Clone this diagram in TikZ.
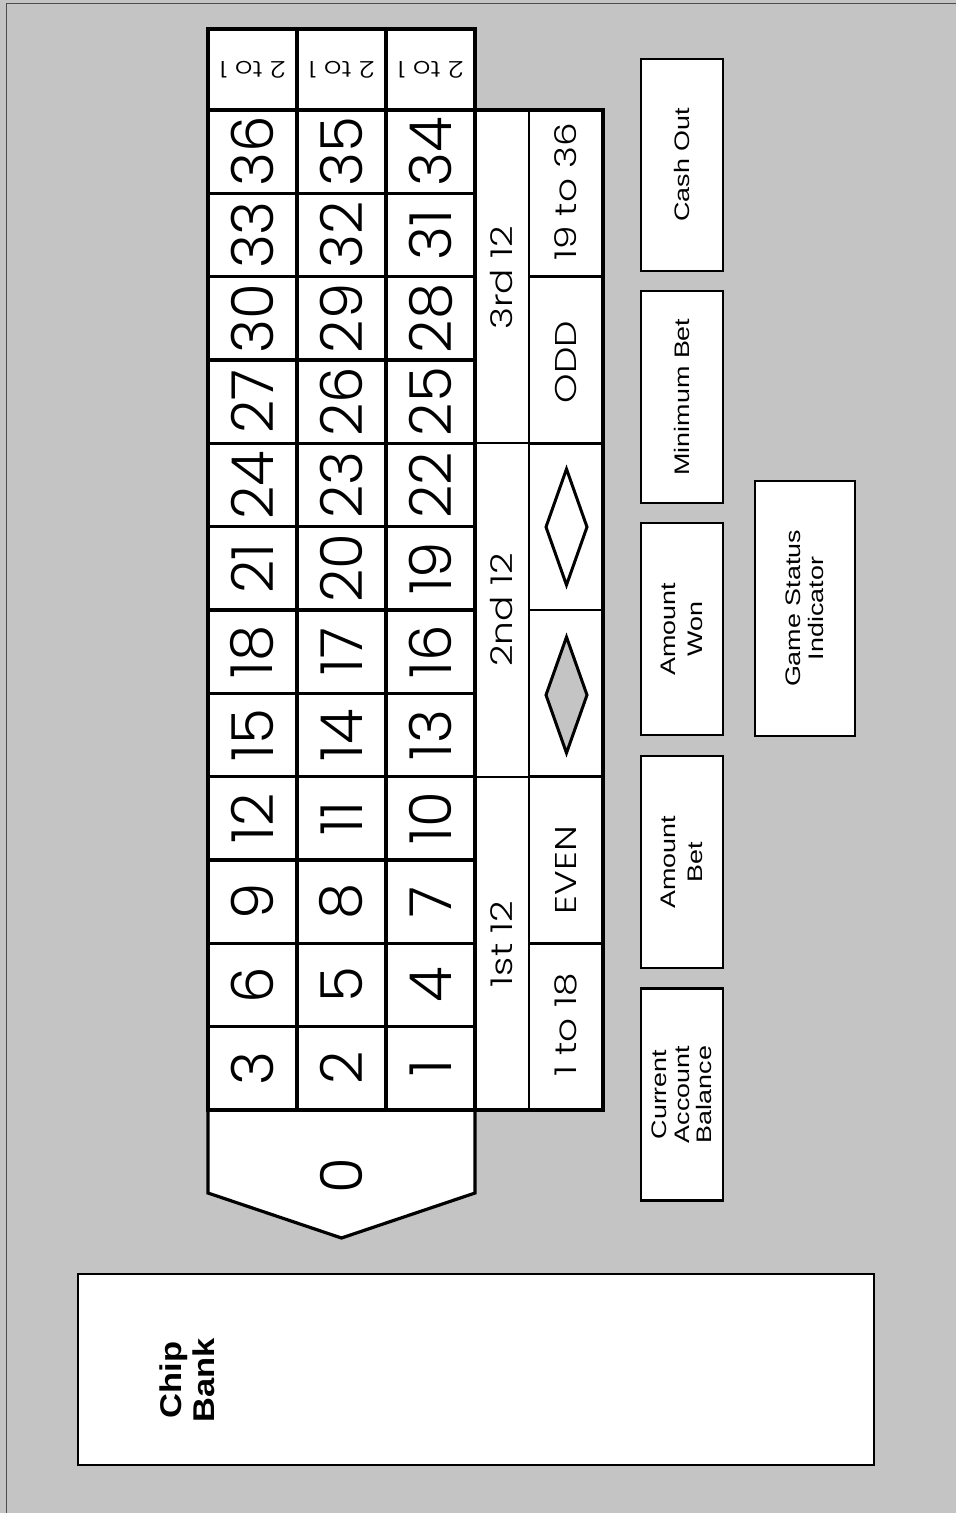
\documentclass[tikz,border=0pt]{standalone}
\usepackage{fontspec}
\setmainfont{Liberation Sans}
\newfontfamily\arialish{Liberation Sans}
\IfFontExistsTF{Poppins Light}{\newfontfamily\geo{Poppins Light}}{\newfontfamily\geo{Poppins}}
\definecolor{bggray}{RGB}{196,196,196}
\begin{document}
\begin{tikzpicture}[x=1pt,y=-1pt,
  cellbox/.style={draw, line width=3.2pt, fill=white, inner sep=0pt},
  numfont/.style={font=\geo\fontsize{58}{58}\selectfont},
  midfont/.style={font=\geo\fontsize{30}{30}\selectfont, rotate=90, xscale=1.25, inner sep=0pt},
  smallgeo/.style={font=\geo\fontsize{23}{23}\selectfont},
  infobox/.style={draw, line width=2.4pt, fill=white, inner sep=0pt},
  infotext/.style={rotate=90, xscale=1.28, align=center, inner sep=0pt},
  diamline/.style={line width=3pt, line join=miter}]
\useasboundingbox (0,0) rectangle (956,1513);
\fill[bggray] (0,0) rectangle (956,1513);
\draw[line width=1pt, black!70] (6,1513) -- (6,3) -- (956,3);

% chip bank
\node[infobox, line width=1.6pt, minimum width=796pt, minimum height=191pt] (chipbank) at (476,1369.5) {};
\node[rotate=90, xscale=1.15, align=center, inner sep=0pt,
  font=\arialish\bfseries\fontsize{30}{33}\selectfont] (chiptext) at (187,1380) {Chip\\Bank};

% zero
\draw[line width=3.2pt, fill=white, line join=miter] (208,1110) -- (475,1110) -- (475,1193) -- (341.5,1238) -- (208,1193) -- cycle;
\node[numfont, rotate=90, inner sep=0pt] (zero) at (341,1176) {0};

% 2 to 1 cells
\foreach \c in {0,1,2}{
  \pgfmathsetmacro\cx{252.5+89*\c}
  \node[cellbox, minimum width=89pt, minimum height=81pt] (col\c) at (\cx,69.5) {};
  \node[smallgeo, rotate=180, xscale=1.2, inner sep=0pt] (colt\c) at (\cx,69.5) {2 to 1};
}

% numbers
\foreach \k in {0,...,11}{
  \foreach \c in {0,1,2}{
    \pgfmathtruncatemacro\n{3*\k+3-\c}
    \pgfmathsetmacro\cx{252.5+89*\c}
    \pgfmathsetmacro\cy{1110-(\k+0.5)*83.333}
    \node[cellbox, numfont, rotate=90, minimum width=83.333pt, minimum height=89pt] (n\n) at (\cx,\cy) {\n};
  }
}

% dozens
\node[cellbox, line width=2.2pt, rotate=90, minimum width=333.33pt, minimum height=54pt] (doz1) at (502,943.33) {};
\node[cellbox, line width=2.2pt, rotate=90, minimum width=333.33pt, minimum height=54pt] (doz2) at (502,610) {};
\node[cellbox, line width=2.2pt, rotate=90, minimum width=333.33pt, minimum height=54pt] (doz3) at (502,276.67) {};
\node[midfont] (doz1t) at (502,944) {1st 12};
\node[midfont] (doz2t) at (502,610) {2nd 12};
\node[midfont] (doz3t) at (502,278) {3rd 12};

% outside bets
\foreach \i/\yc in {1/1026.67,2/860,3/693.33,4/526.67,5/360,6/193.33}{
  \node[cellbox, line width=2.8pt, rotate=90, minimum width=166.67pt, minimum height=74pt] (ob\i) at (566,\yc) {};
}
\node[midfont] (lowt) at (566,1025) {1 to 18};
\node[midfont] (event) at (566,870) {EVEN};
\node[midfont] (oddt) at (566,362) {ODD};
\node[midfont] (hight) at (566,192) {19 to 36};
\draw[diamline, fill=bggray] (566.5,637) -- (587,695) -- (566.5,753) -- (546,695) -- cycle;
\draw[diamline, fill=white] (566.5,469) -- (587,527) -- (566.5,585) -- (546,527) -- cycle;

% outer frame of table area
\draw[line width=3.2pt] (208,29) rectangle (475,1110);
\draw[line width=3.2pt] (475,110) -- (603,110) -- (603,1110) -- (475,1110);

% info boxes
\node[infobox, minimum width=82pt, minimum height=212pt] (cashout) at (682,165) {};
\node[infotext, font=\arialish\fontsize{21}{23}\selectfont] at (cashout.center) {Cash Out};
\node[infobox, minimum width=82pt, minimum height=212pt] (minbet) at (682,397) {};
\node[infotext, font=\arialish\fontsize{21}{23}\selectfont] at (minbet.center) {Minimum Bet};
\node[infobox, minimum width=82pt, minimum height=212pt] (amtwon) at (682,629) {};
\node[infotext, font=\arialish\fontsize{21}{27}\selectfont] at (amtwon.center) {Amount\\Won};
\node[infobox, minimum width=82pt, minimum height=212pt] (amtbet) at (682,862) {};
\node[infotext, font=\arialish\fontsize{21}{27}\selectfont] at (amtbet.center) {Amount\\Bet};
\node[infobox, minimum width=82pt, minimum height=212pt] (balance) at (682,1094.5) {};
\node[infotext, font=\arialish\fontsize{21}{22.5}\selectfont] at (balance.center) {Current\\Account\\Balance};
\node[infobox, minimum width=100pt, minimum height=255pt] (status) at (805,608.5) {};
\node[infotext, font=\arialish\fontsize{21}{23}\selectfont] at (status.center) {Game Status\\Indicator};
\end{tikzpicture}
\end{document}
